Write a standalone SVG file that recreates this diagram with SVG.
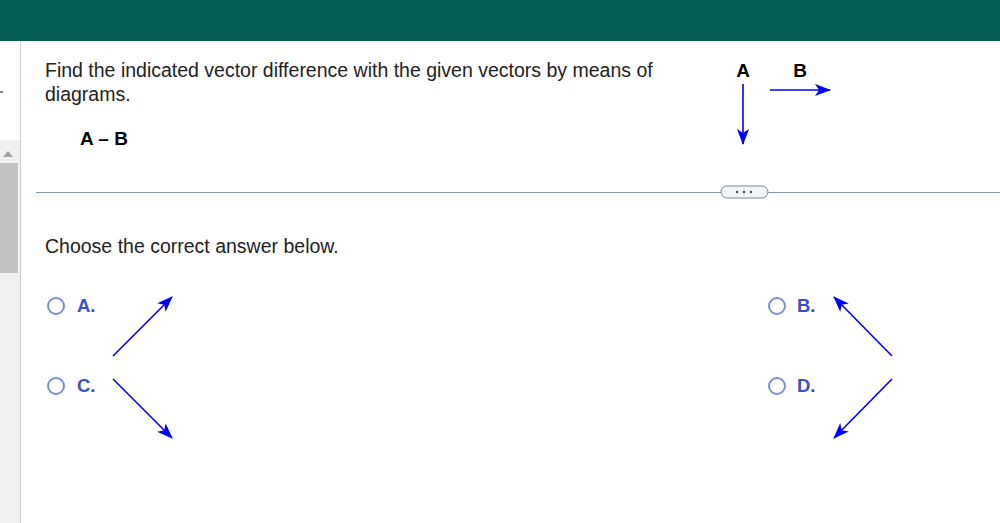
<svg xmlns="http://www.w3.org/2000/svg" width="1000" height="523" viewBox="0 0 1000 523">
<style>
.t{font-family:"Liberation Sans",Arial,sans-serif;font-size:19.5px;fill:#222}
.b{font-family:"Liberation Sans",Arial,sans-serif;font-size:19px;font-weight:bold;fill:#000}
.opt{font-family:"Liberation Sans",Arial,sans-serif;font-size:18.5px;font-weight:bold;fill:#3850c0}
.radio{fill:#fff;stroke:#7b8fd8;stroke-width:2}
.vec{stroke:#0000ff;stroke-width:1.6;fill:none;marker-end:url(#ah)}
</style>
<defs>
<marker id="ah" viewBox="0 0 16 12" refX="15" refY="6" markerWidth="16" markerHeight="12" markerUnits="userSpaceOnUse" orient="auto">
<path d="M0,0 L16,6 L0,12 L4,6 Z" fill="#0000ff"/>
</marker>
</defs>
<rect x="0" y="0" width="1000" height="523" fill="#fff"/>
<rect x="0" y="0" width="1000" height="41" fill="#055e56"/>
<g id="sidebar">
<line x1="20.5" y1="41" x2="20.5" y2="523" stroke="#c8d0dc" stroke-width="1"/>
<rect x="0" y="140" width="20" height="383" fill="#f0f0f0"/>
<path d="M3,157 L8,151 L13,157 Z" fill="#a0a0a0"/>
<rect x="0" y="163" width="18" height="110" fill="#c1c1c1"/>
<rect x="0" y="91" width="3" height="2" fill="#888"/>
</g>
<g id="question">
<text class="t" x="45" y="77">Find the indicated vector difference with the given vectors by means of</text>
<text class="t" x="45" y="101">diagrams.</text>
<text class="b" x="80" y="145">A – B</text>
</g>
<g id="given">
<text class="b" x="743" y="77" text-anchor="middle">A</text>
<text class="b" x="800" y="77" text-anchor="middle">B</text>
</g>
<line x1="36" y1="192.5" x2="1000" y2="192.5" stroke="#8a96a8" stroke-width="1"/>
<g id="more">
<rect x="721" y="186" width="47" height="12" rx="6" fill="#f4f6f8" stroke="#7a8494" stroke-width="1"/>
<circle cx="737" cy="192" r="1.3" fill="#555"/>
<circle cx="744" cy="192" r="1.3" fill="#555"/>
<circle cx="751" cy="192" r="1.3" fill="#555"/>
</g>
<text class="t" x="45" y="253">Choose the correct answer below.</text>
<g id="optA"><circle class="radio" cx="56" cy="306" r="8"/><text class="opt" x="77" y="312">A.</text></g>
<g id="optC"><circle class="radio" cx="56" cy="386" r="8"/><text class="opt" x="77" y="392">C.</text></g>
<g id="optB"><circle class="radio" cx="777" cy="306" r="8"/><text class="opt" x="797" y="312">B.</text></g>
<g id="optD"><circle class="radio" cx="777" cy="386" r="8"/><text class="opt" x="797" y="392">D.</text></g>
<g id="connectors">
<line class="vec" x1="743" y1="84" x2="743" y2="144"/>
<line class="vec" x1="770" y1="90" x2="830" y2="90"/>
<line class="vec" x1="113" y1="356" x2="172" y2="297"/>
<line class="vec" x1="113" y1="379" x2="172" y2="438"/>
<line class="vec" x1="892" y1="356" x2="834" y2="297"/>
<line class="vec" x1="892" y1="379" x2="834" y2="438"/>
</g>
</svg>
